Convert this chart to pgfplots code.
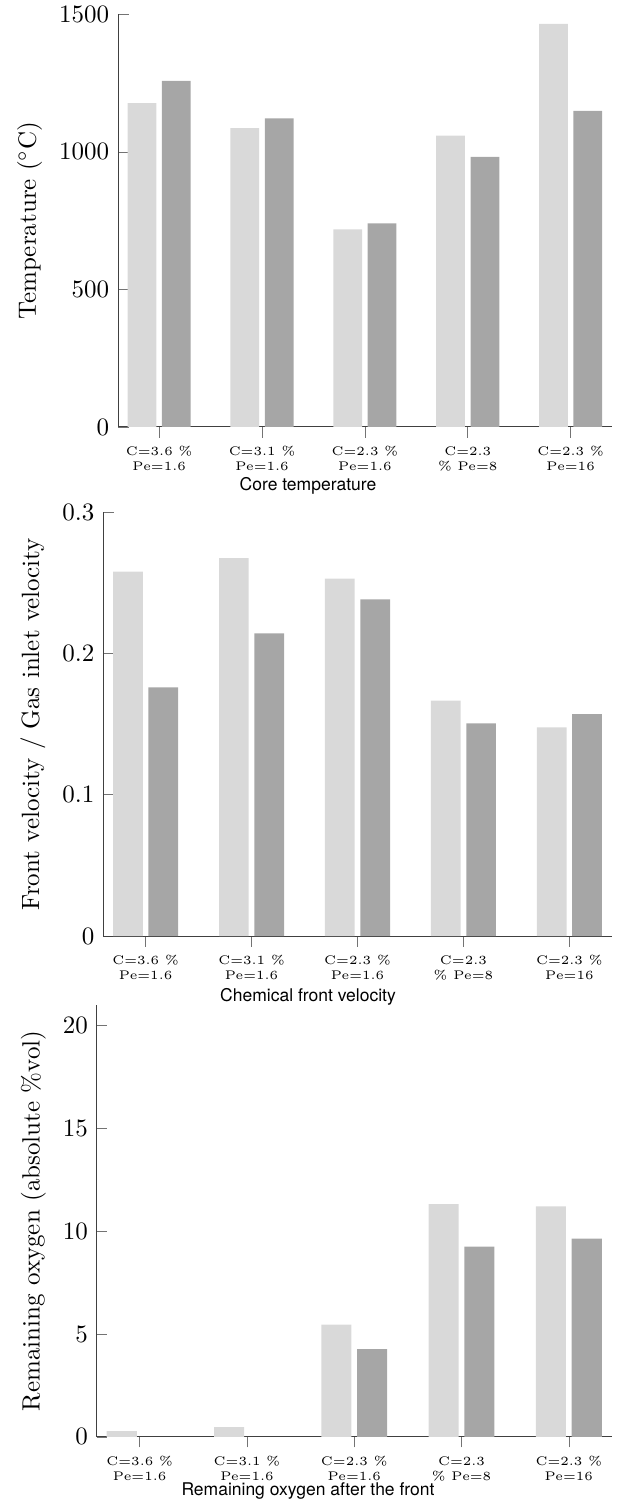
\documentclass[border=0pt]{standalone}
\usepackage{fontspec}
\newfontfamily\heros{TeX Gyre Heros}
\usepackage{pgfplots}
\pgfplotsset{compat=1.18}
\definecolor{lightbar}{HTML}{D9D9D9}
\definecolor{darkbar}{HTML}{A6A6A6}
\pgfplotsset{
  mybars/.style={
    axis x line=bottom, axis y line=left,
    axis line style={-, black!75},
    xtick align=outside, ytick align=inside,
    major tick style={black!55},
    xmin=-0.4, xmax=4.4, ymin=0,
    xtick={0,1,2,3,4},
    xticklabels={{C=3.6 \%\\Pe=1.6},{C=3.1 \%\\Pe=1.6},{C=2.3 \%\\Pe=1.6},{C=2.3\\\% Pe=8},{C=2.3 \%\\Pe=16}},
    xticklabel style={font=\tiny, align=center},
    scale only axis,
    scaled y ticks=false,
    /pgf/number format/1000 sep={},
    anchor=south west,
  },
  lbar/.style={ybar, bar width=0.28, bar shift=-0.167, fill=lightbar, draw=none},
  dbar/.style={ybar, bar width=0.28, bar shift=0.167, fill=darkbar, draw=none},
}
\begin{document}
\begin{tikzpicture}
\path[use as bounding box] (0pt,0pt) rectangle (246.4pt,-603.6pt);
% Panel 1
\begin{axis}[mybars, at={(47.2pt,-170.8pt)}, width=197.5pt, height=165.1pt,
  ymax=1500, ytick={0,500,1000,1500}, ylabel={Temperature ($^\circ$C)}]
\addplot[lbar] coordinates {(0,1177) (1,1086) (2,718) (3,1059) (4,1465)};
\addplot[dbar] coordinates {(0,1258) (1,1122) (2,740) (3,982) (4,1149)};
\end{axis}
\node[font=\heros\fontsize{7}{8.4}\selectfont] at (123.2pt,-194.2pt) {Core temperature};
% Panel 2
\begin{axis}[mybars, at={(41.3pt,-374.4pt)}, width=203.4pt, height=169.6pt,
  ymax=0.3, ytick={0,0.1,0.2,0.3}, ylabel={Front velocity / Gas inlet velocity}]
\addplot[lbar] coordinates {(0,0.2578) (1,0.2673) (2,0.2528) (3,0.1665) (4,0.1476)};
\addplot[dbar] coordinates {(0,0.176) (1,0.2142) (2,0.2382) (3,0.1505) (4,0.157)};
\end{axis}
\node[font=\heros\fontsize{7}{8.4}\selectfont] at (123.2pt,-398.6pt) {Chemical front velocity};
% Panel 3
\begin{axis}[mybars, at={(38.7pt,-574.7pt)}, width=206pt, height=172.7pt,
  ymax=21, ytick={0,5,10,15,20}, ylabel={Remaining oxygen (absolute \%vol)}]
\addplot[lbar] coordinates {(0,0.28) (1,0.47) (2,5.45) (3,11.31) (4,11.21)};
\addplot[dbar] coordinates {(2,4.26) (3,9.25) (4,9.64)};
\end{axis}
\node[font=\heros\fontsize{7}{8.4}\selectfont] at (123.2pt,-596.2pt) {Remaining oxygen after the front};
\end{tikzpicture}
\end{document}
